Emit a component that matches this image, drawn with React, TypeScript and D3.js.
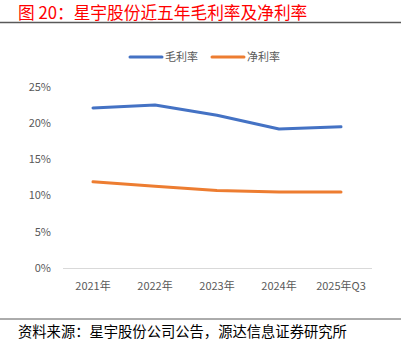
import * as d3 from 'd3';
import { useRef, useEffect } from 'react';

const years = ['2021年', '2022年', '2023年', '2024年', '2025年Q3'];
const grossMargin = [0.221, 0.225, 0.211, 0.192, 0.195];
const netMargin = [0.119, 0.113, 0.107, 0.105, 0.105];
const yTicks = [0, 0.05, 0.1, 0.15, 0.2, 0.25];

const series = [
    { name: '毛利率', values: grossMargin, color: '#4472C4' },
    { name: '净利率', values: netMargin, color: '#ED7D31' }
];

export default function App() {
    const ref = useRef<SVGSVGElement>(null);

    useEffect(() => {
        const width = 401;
        const height = 351;
        const font = '"Noto Sans CJK SC", "Noto Sans", sans-serif';

        const svg = d3.select(ref.current);
        svg.selectAll('*').remove();
        svg.attr('width', width).attr('height', height);

        // Title + rule
        svg.append('text')
            .attr('x', 18)
            .attr('y', 19)
            .text('图 20：星宇股份近五年毛利率及净利率')
            .style('font-family', font)
            .style('font-size', '16.7px')
            .style('font-weight', 400)
            .style('fill', '#FF0000');

        svg.append('line')
            .attr('x1', 0).attr('x2', width)
            .attr('y1', 22.5).attr('y2', 22.5)
            .attr('stroke', '#595959')
            .attr('stroke-width', 1.5);

        // Scales
        const x = d3.scalePoint<string>()
            .domain(years)
            .range([93, 341]);

        const y = d3.scaleLinear()
            .domain([0, 0.25])
            .range([268, 87]);

        // Baseline
        svg.append('line')
            .attr('x1', 63).attr('x2', 372)
            .attr('y1', y(0) + 0.5).attr('y2', y(0) + 0.5)
            .attr('stroke', '#D9D9D9')
            .attr('stroke-width', 1);

        // Y axis labels
        svg.selectAll('.ytick')
            .data(yTicks)
            .enter()
            .append('text')
            .attr('x', 51)
            .attr('y', d => y(d))
            .attr('dy', '0.35em')
            .attr('text-anchor', 'end')
            .text(d => `${Math.round(d * 100)}%`)
            .style('font-family', font)
            .style('font-size', '11px')
            .style('fill', '#595959');

        // X axis labels
        svg.selectAll('.xtick')
            .data(years)
            .enter()
            .append('text')
            .attr('x', d => x(d) as number)
            .attr('y', 286)
            .attr('dy', '0.35em')
            .attr('text-anchor', 'middle')
            .text(d => d)
            .style('font-family', font)
            .style('font-size', '11px')
            .style('fill', '#595959');

        // Lines
        const line = d3.line<number>()
            .x((d, i) => x(years[i]) as number)
            .y(d => y(d));

        svg.selectAll('.series')
            .data(series)
            .enter()
            .append('path')
            .attr('d', d => line(d.values))
            .attr('fill', 'none')
            .attr('stroke', d => d.color)
            .attr('stroke-width', 3)
            .attr('stroke-linecap', 'round')
            .attr('stroke-linejoin', 'round');

        // Legend
        const legendX = [130, 212];
        const legend = svg.selectAll('.legend')
            .data(series)
            .enter()
            .append('g')
            .attr('transform', (d, i) => `translate(${legendX[i]}, 57)`);

        legend.append('line')
            .attr('x1', 0).attr('x2', 32)
            .attr('y1', 0).attr('y2', 0)
            .attr('stroke', d => d.color)
            .attr('stroke-width', 3)
            .attr('stroke-linecap', 'round');

        legend.append('text')
            .attr('x', 35)
            .attr('y', 0)
            .attr('dy', '0.35em')
            .text(d => d.name)
            .style('font-family', font)
            .style('font-size', '11px')
            .style('fill', '#595959');

        // Footer
        svg.append('line')
            .attr('x1', 0).attr('x2', width)
            .attr('y1', 319).attr('y2', 319)
            .attr('stroke', '#595959')
            .attr('stroke-width', 1);

        svg.append('text')
            .attr('x', 18)
            .attr('y', 337)
            .text('资料来源：星宇股份公司公告，源达信息证券研究所')
            .style('font-family', font)
            .style('font-size', '14.3px')
            .style('fill', '#000000');
    }, []);

    return (
        <svg ref={ref} style={{ position: 'absolute', left: 0, top: 0 }}></svg>
    );
}
